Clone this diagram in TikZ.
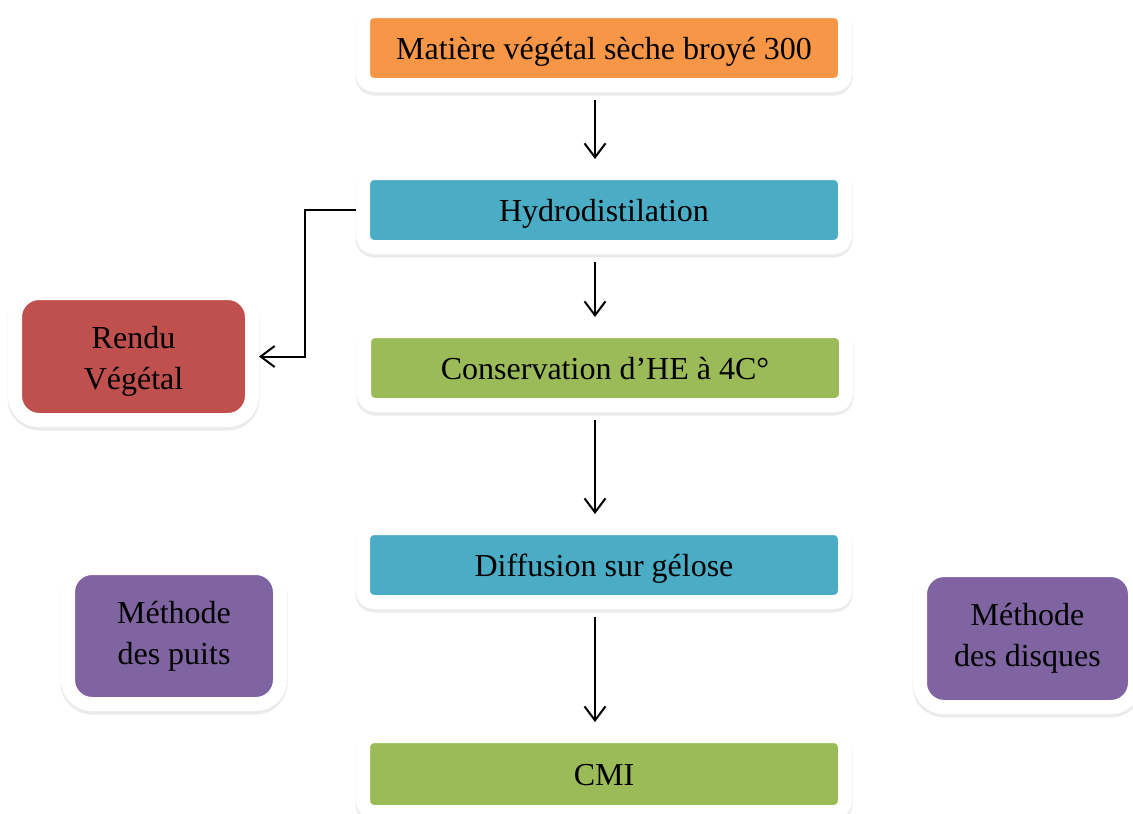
\documentclass[tikz,border=0pt]{standalone}
\usepackage{fontspec}
\setmainfont{Liberation Serif}
\usetikzlibrary{arrows.meta,shadows,calc}
\definecolor{corange}{HTML}{F79646}
\definecolor{cblue}{HTML}{4BACC6}
\definecolor{cgreen}{HTML}{9BBB59}
\definecolor{cred}{HTML}{C0504D}
\definecolor{cpurple}{HTML}{8064A2}
\tikzset{
  boxbase/.style={draw=white, line width=14pt, inner sep=0pt, align=center,
    font=\fontsize{32}{41}\selectfont,
    drop shadow={shadow xshift=0pt, shadow yshift=-3pt, opacity=0.13,
      fill=black!60, draw=black!60, line width=15pt}},
  widebox/.style={boxbase, rounded corners=11pt, minimum width=482pt, minimum height=74pt,
    text height=30pt, text depth=7.5pt},
  smallbox/.style={boxbase, rounded corners=24pt},
  arr/.style={line width=2pt, -{Straight Barb[length=14pt,width=21pt,line width=2pt]}},
}
\begin{document}
\begin{tikzpicture}[x=1pt,y=-1pt]
\useasboundingbox (0,0) rectangle (1133,814);
\coordinate (ax) at (595,0);
\coordinate (elx) at (305,0);
\node[widebox, fill=corange] (top) at (604,48) {Matière végétal sèche broyé 300};
\node[widebox, fill=cblue] (hyd) at (604,210) {Hydrodistilation};
\node[widebox, fill=cgreen] (cons) at (605,368) {Conservation d’HE à 4C°};
\node[widebox, fill=cblue] (diff) at (604,565) {Diffusion sur gélose};
\node[widebox, fill=cgreen, minimum height=76pt] (cmi) at (604,774) {CMI};
\node[smallbox, fill=cred, minimum width=237pt, minimum height=127pt] (rendu) at (133.5,356.5) {\rule{0pt}{31pt}Rendu\\Végétal};
\node[smallbox, fill=cpurple, minimum width=212pt, minimum height=136pt] (puits) at (174,636) {Méthode\\des puits};
\node[smallbox, fill=cpurple, minimum width=215pt, minimum height=137pt] (disq) at (1027.5,638.5) {Méthode\\des disques};
\draw[arr, shorten <=8pt, shorten >=7pt] (top.south -| ax) -- (hyd.north -| ax);
\draw[arr, shorten <=8pt, shorten >=7pt] (hyd.south -| ax) -- (cons.north -| ax);
\draw[arr, shorten <=8pt, shorten >=7pt] (cons.south -| ax) -- (diff.north -| ax);
\draw[arr, shorten <=8pt, shorten >=7pt] (diff.south -| ax) -- (cmi.north -| ax);
\draw[arr] (hyd.west) -- (hyd.west -| elx) |- (rendu.east);
\end{tikzpicture}
\end{document}
